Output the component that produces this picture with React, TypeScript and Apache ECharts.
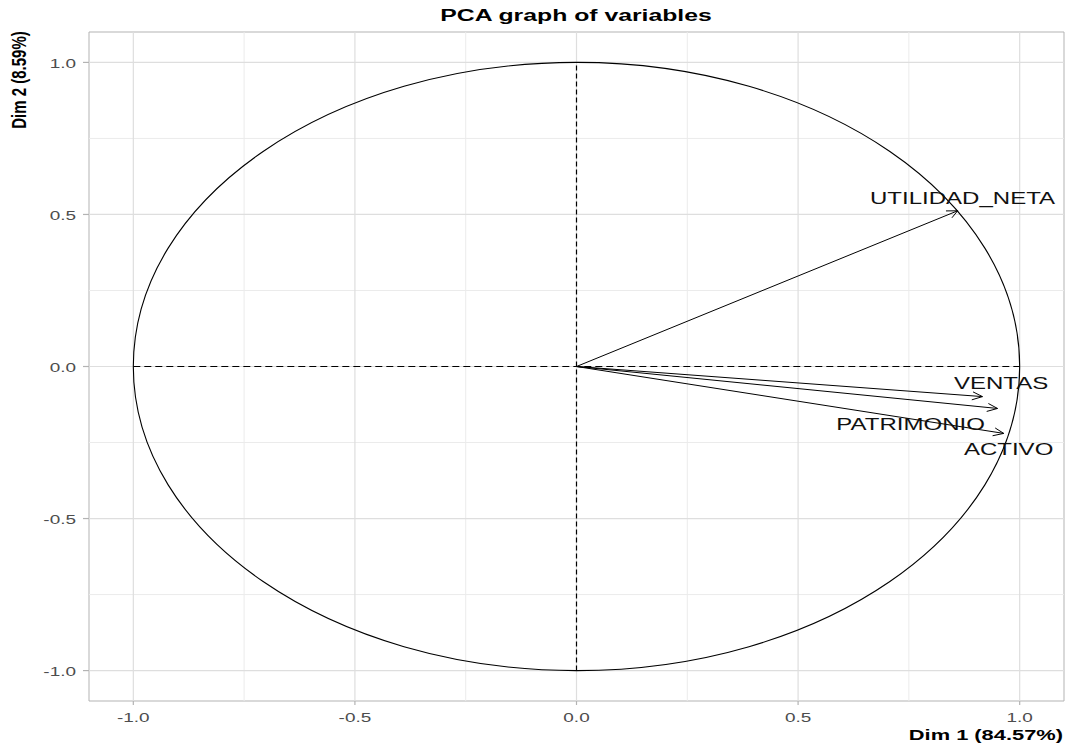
import React, { useEffect, useRef } from 'react';
import * as echarts from 'echarts';

// ---- data ----
const variables = ['UTILIDAD_NETA', 'VENTAS', 'PATRIMONIO', 'ACTIVO'];
const dim1 = [0.86, 0.916, 0.95, 0.964];
const dim2 = [0.512, -0.099, -0.138, -0.22];
const labelDim1 = [0.871, 0.958, 0.754, 0.975];
const labelDim2 = [0.555, -0.054, -0.189, -0.271];
const majorTicks = [-1, -0.5, 0, 0.5, 1];
const minorTicks = [-0.75, -0.25, 0.25, 0.75];
const tickLabels = ['-1.0', '-0.5', '0.0', '0.5', '1.0'];
const refLines = [
  [-1, 0, 1, 0],
  [0, -1, 0, 1],
];
const circle = [[0, 0, 1]];

const S = 1.457; // horizontal stretch of the reference picture
const FONT = "'Liberation Sans', Arial, Helvetica, sans-serif";

export default function App() {
  const ref = useRef<HTMLDivElement>(null);

  useEffect(() => {
    if (!ref.current) return;
    const chart = echarts.init(ref.current, null, { renderer: 'svg' });

    const gridLineSeries = (vals: number[], dir: 'x' | 'y', color: string, width: number) => ({
      type: 'custom',
      coordinateSystem: 'cartesian2d',
      clip: false,
      silent: true,
      data: vals.map((v) => [v]),
      renderItem: (params: any, api: any) => {
        const cs = params.coordSys;
        const v = api.value(0);
        if (dir === 'x') {
          const x = api.coord([v, 0])[0];
          return {
            type: 'line',
            shape: { x1: x, y1: cs.y, x2: x, y2: cs.y + cs.height },
            style: { stroke: color, lineWidth: width, fill: 'none' },
          };
        }
        const y = api.coord([0, v])[1];
        return {
          type: 'line',
          shape: { x1: cs.x, y1: y, x2: cs.x + cs.width, y2: y },
          style: { stroke: color, lineWidth: width, fill: 'none' },
        };
      },
    });

    const option: any = {
      animation: false,
      grid: {
        left: 89,
        top: 32,
        right: 3,
        bottom: 45,
        show: true,
        borderColor: '#b3b3b3',
        borderWidth: 1,
        backgroundColor: 'transparent',
      },
      xAxis: { type: 'value', min: -1.1, max: 1.1, show: false },
      yAxis: { type: 'value', min: -1.1, max: 1.1, show: false },
      graphic: [
        {
          type: 'text',
          x: 576,
          y: 15,
          scaleX: S,
          style: {
            text: 'PCA graph of variables',
            fontSize: 17,
            fontWeight: 'bold',
            fontFamily: FONT,
            fill: '#000',
            align: 'center',
            verticalAlign: 'middle',
          },
        },
        {
          type: 'text',
          x: 1063,
          y: 735,
          scaleX: S,
          style: {
            text: 'Dim 1 (84.57%)',
            fontSize: 15,
            fontWeight: 'bold',
            fontFamily: FONT,
            fill: '#000',
            align: 'right',
            verticalAlign: 'middle',
          },
        },
        {
          type: 'text',
          x: 19,
          y: 80,
          rotation: Math.PI / 2,
          scaleY: 1.3,
          style: {
            text: 'Dim 2 (8.59%)',
            fontSize: 15,
            fontWeight: 'bold',
            fontFamily: FONT,
            fill: '#000',
            align: 'center',
            verticalAlign: 'middle',
          },
        },
      ],
      series: [
        gridLineSeries(minorTicks, 'x', '#ebebeb', 1),
        gridLineSeries(minorTicks, 'y', '#ebebeb', 1),
        gridLineSeries(majorTicks, 'x', '#dedede', 1.2),
        gridLineSeries(majorTicks, 'y', '#dedede', 1.2),
        // x axis ticks + labels
        {
          type: 'custom',
          coordinateSystem: 'cartesian2d',
          clip: false,
          silent: true,
          data: majorTicks.map((v) => [v]),
          renderItem: (params: any, api: any) => {
            const cs = params.coordSys;
            const x = api.coord([api.value(0), 0])[0];
            const yb = cs.y + cs.height;
            return {
              type: 'group',
              children: [
                {
                  type: 'line',
                  shape: { x1: x, y1: yb, x2: x, y2: yb + 4 },
                  style: { stroke: '#b3b3b3', lineWidth: 1.2, fill: 'none' },
                },
                {
                  type: 'text',
                  x: x,
                  y: yb + 16,
                  scaleX: S,
                  style: {
                    text: tickLabels[params.dataIndex],
                    fontSize: 13,
                    fontFamily: FONT,
                    fill: '#4d4d4d',
                    align: 'center',
                    verticalAlign: 'middle',
                  },
                },
              ],
            };
          },
        },
        // y axis ticks + labels
        {
          type: 'custom',
          coordinateSystem: 'cartesian2d',
          clip: false,
          silent: true,
          data: majorTicks.map((v) => [0, v]),
          renderItem: (params: any, api: any) => {
            const cs = params.coordSys;
            const y = api.coord([0, api.value(1)])[1];
            return {
              type: 'group',
              children: [
                {
                  type: 'line',
                  shape: { x1: cs.x - 6, y1: y, x2: cs.x, y2: y },
                  style: { stroke: '#b3b3b3', lineWidth: 1.2, fill: 'none' },
                },
                {
                  type: 'text',
                  x: cs.x - 13,
                  y: y + 1,
                  scaleX: S,
                  style: {
                    text: tickLabels[params.dataIndex],
                    fontSize: 13,
                    fontFamily: FONT,
                    fill: '#4d4d4d',
                    align: 'right',
                    verticalAlign: 'middle',
                  },
                },
              ],
            };
          },
        },
        // dashed reference lines
        {
          type: 'custom',
          coordinateSystem: 'cartesian2d',
          clip: false,
          silent: true,
          data: refLines,
          renderItem: (params: any, api: any) => {
            const p1 = api.coord([api.value(0), api.value(1)]);
            const p2 = api.coord([api.value(2), api.value(3)]);
            const horizontal = Math.abs(p1[1] - p2[1]) < 1;
            return {
              type: 'line',
              shape: { x1: p1[0], y1: p1[1], x2: p2[0], y2: p2[1] },
              style: {
                stroke: '#000',
                lineWidth: 1.2,
                fill: 'none',
                lineDash: horizontal ? [7, 4] : [5, 3],
              },
            };
          },
        },
        // correlation circle
        {
          type: 'custom',
          coordinateSystem: 'cartesian2d',
          clip: false,
          silent: true,
          data: circle,
          renderItem: (params: any, api: any) => {
            const c = api.coord([api.value(0), api.value(1)]);
            const r = api.value(2);
            const rx = api.size([r, 0])[0];
            const ry = api.size([0, r])[1];
            return {
              type: 'ellipse',
              shape: { cx: c[0], cy: c[1], rx, ry },
              style: { stroke: '#000', lineWidth: 1.1, fill: 'none' },
            };
          },
        },
        // arrows
        {
          type: 'custom',
          coordinateSystem: 'cartesian2d',
          clip: false,
          silent: true,
          data: dim1.map((v, i) => [v, dim2[i]]),
          renderItem: (params: any, api: any) => {
            const o = api.coord([0, 0]);
            const t = api.coord([api.value(0), api.value(1)]);
            const dx = (t[0] - o[0]) / S;
            const dy = t[1] - o[1];
            const len = Math.hypot(dx, dy) || 1;
            const ux = dx / len;
            const uy = dy / len;
            const L = 8;
            const a = Math.PI / 6;
            const head = (sgn: number) => {
              const c = Math.cos(a);
              const s = Math.sin(a) * sgn;
              const rx = ux * c - uy * s;
              const ry = ux * s + uy * c;
              return [t[0] - L * rx * S, t[1] - L * ry];
            };
            return {
              type: 'group',
              children: [
                {
                  type: 'line',
                  shape: { x1: o[0], y1: o[1], x2: t[0], y2: t[1] },
                  style: { stroke: '#000', lineWidth: 1, fill: 'none' },
                },
                {
                  type: 'polyline',
                  shape: { points: [head(1), t, head(-1)] },
                  style: { stroke: '#000', lineWidth: 1, fill: 'none' },
                },
              ],
            };
          },
        },
        // variable labels
        {
          type: 'custom',
          coordinateSystem: 'cartesian2d',
          clip: false,
          silent: true,
          data: labelDim1.map((v, i) => [v, labelDim2[i]]),
          renderItem: (params: any, api: any) => {
            const p = api.coord([api.value(0), api.value(1)]);
            return {
              type: 'text',
              x: p[0],
              y: p[1],
              scaleX: S,
              style: {
                text: variables[params.dataIndex],
                fontSize: 16.5,
                fontFamily: FONT,
                fill: '#111',
                align: 'center',
                verticalAlign: 'middle',
              },
            };
          },
        },
      ],
    };

    chart.setOption(option);
    return () => chart.dispose();
  }, []);

  return (
    <div
      ref={ref}
      style={{ position: 'fixed', left: 0, top: 0, width: 1067, height: 746, background: '#fff' }}
    />
  );
}
